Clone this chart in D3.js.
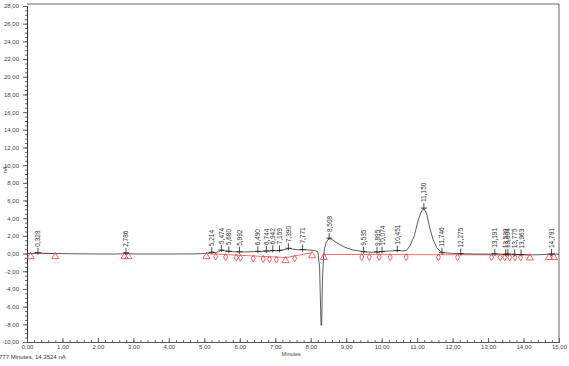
<!DOCTYPE html>
<html>
<head>
<meta charset="utf-8">
<script src="https://cdn.jsdelivr.net/npm/d3@7"></script>
<style>
  body { margin: 0; background: #fff; }
  text { font-family: "Liberation Sans", Arial, sans-serif; }
</style>
</head>
<body>
<div class="canvas"></div>
<script>
const dims = {width: 569, height: 366};
const margin = {left: 27, right: 10, top: 6, bottom: 24};

// trace (minutes, nA)
const traceTime = [0.0, 0.15, 0.3, 0.33, 0.4, 0.6, 1.0, 1.5, 2.0, 2.5, 2.7, 2.79, 2.9, 3.2, 4.0, 4.6, 5.0, 5.1,
  5.21, 5.3, 5.4, 5.47, 5.58, 5.68, 5.8, 5.99, 6.2, 6.49, 6.6, 6.74, 6.85, 6.94, 7.05, 7.16, 7.28, 7.39, 7.5,
  7.65, 7.77, 7.95, 8.1, 8.2, 8.25, 8.29, 8.31, 8.33, 8.36, 8.39, 8.44, 8.52, 8.6, 8.7, 8.85, 9.0, 9.2, 9.4,
  9.54, 9.7, 9.9, 10.07, 10.25, 10.45, 10.6, 10.7, 10.8, 10.92, 11.02, 11.1, 11.19, 11.27, 11.35, 11.45, 11.55,
  11.65, 11.75, 12.0, 12.28, 12.6, 13.0, 13.19, 13.4, 13.55, 13.61, 13.78, 13.96, 14.2, 14.5, 14.79, 15.0];
const traceValue = [0.0, 0.02, 0.08, 0.1, 0.06, 0.02, 0.0, -0.03, -0.05, -0.05, -0.02, 0.08, -0.02, -0.05, -0.05, -0.04, 0.0, 0.05,
  0.15, 0.12, 0.2, 0.4, 0.3, 0.25, 0.22, 0.2, 0.18, 0.25, 0.22, 0.3, 0.28, 0.35, 0.3, 0.38, 0.45, 0.6, 0.5,
  0.42, 0.45, 0.4, 0.35, 0.2, -1.5, -8.1, -8.1, -3.0, -0.5, 0.6, 1.3, 1.75, 1.6, 1.3, 0.95, 0.65, 0.4, 0.28,
  0.2, 0.15, 0.18, 0.25, 0.3, 0.35, 0.3, 0.35, 0.9, 2.0, 3.6, 4.6, 5.15, 4.5, 3.0, 1.6, 0.7,
  0.25, 0.1, 0.02, -0.02, -0.05, -0.06, -0.03, -0.08, -0.05, -0.07, -0.1, -0.12, -0.15, -0.12, -0.05, -0.08];

// labelled peaks
const peakTimes = [0.31, 2.79, 5.21, 5.48, 5.69, 5.99, 6.51, 6.75, 6.93, 7.12, 7.37, 7.77, 8.52,
  9.49, 9.87, 10.01, 10.44, 11.19, 11.7, 12.23, 13.19, 13.5, 13.56, 13.75, 13.93, 14.79];
const peakHeights = [0.1, 0.08, 0.15, 0.4, 0.27, 0.2, 0.25, 0.3, 0.35, 0.36, 0.6, 0.45, 1.75,
  0.2, 0.18, 0.24, 0.35, 5.15, 0.1, 0.0, -0.03, -0.07, -0.06, -0.09, -0.11, -0.05];
const peakLabels = ['0,328', '2,786', '5,214', '5,474', '5,680', '5,992', '6,490', '6,744', '6,942', '7,159', '7,390', '7,771', '8,508',
  '9,535', '9,895', '10,074', '10,451', '11,150', '11,746', '12,275', '13,191', '13,538', '13,604', '13,775', '13,963', '14,791'];

// integration baseline segments [t0, v0, t1, v1]
const baseSegments = [
  [0.1, 0.0, 0.8, 0.0],
  [2.75, 0.0, 2.86, 0.0],
  [5.06, 0.0, 7.29, -0.45],
  [7.29, -0.45, 8.04, 0.1],
  [8.37, -0.1, 14.18, -0.15],
  [14.72, -0.1, 14.86, -0.1]
];
const triangleTimes = [0.1, 0.8, 2.75, 2.86, 5.06, 7.29, 8.04, 8.37, 14.18, 14.72, 14.86];
const triangleValues = [0.0, 0.0, 0.0, 0.0, 0.0, -0.45, 0.1, -0.1, -0.15, -0.1, -0.1];
const diamondTimes = [5.32, 5.6, 5.9, 6.02, 6.38, 6.66, 6.84, 7.03, 7.55,
  9.44, 9.65, 9.93, 10.24, 10.69, 11.6, 12.14, 13.1, 13.34, 13.47, 13.61, 13.76, 13.92];

const yMajor = d3.range(-10, 28.01, 2);
const xMajor = d3.range(0, 15.01, 1);

const fmt = v => v.toFixed(2).replace('.', ',');

const svg = d3.select('.canvas')
  .append('svg')
  .attr('width', dims.width)
  .attr('height', dims.height);

const x = d3.scaleLinear().domain([0, 15]).range([margin.left, dims.width - margin.right]);
const y = d3.scaleLinear().domain([-10, 28]).range([dims.height - margin.bottom, margin.top]);

// frame top / right
svg.append('path')
  .attr('fill', 'none')
  .attr('stroke', '#666')
  .attr('d', `M${x(0)},${y(28) - 2}H${x(15)}V${y(-10)}`);

// y axis
const yAxis = svg.append('g')
  .attr('transform', `translate(${x(0)},0)`)
  .call(d3.axisLeft(y).tickValues(d3.range(-10, 28.01, 0.5)).tickSize(2).tickFormat(''));
yAxis.append('g')
  .call(d3.axisLeft(y).tickValues(yMajor).tickSize(4).tickFormat(fmt));
yAxis.selectAll('path.domain').attr('stroke', '#333');
yAxis.selectAll('line').attr('stroke', '#666');
yAxis.selectAll('text').attr('font-size', 6).attr('fill', '#444').attr('dx', -1);

// x axis
const xAxis = svg.append('g')
  .attr('transform', `translate(0,${y(-10)})`)
  .call(d3.axisBottom(x).tickValues(d3.range(0, 15.01, 0.2)).tickSize(-2).tickFormat(''));
xAxis.append('g')
  .call(d3.axisBottom(x).tickValues(xMajor).tickSize(-4).tickPadding(3).tickFormat(fmt));
xAxis.selectAll('path.domain').attr('stroke', '#555');
xAxis.selectAll('line').attr('stroke', '#666');
xAxis.selectAll('text').attr('font-size', 6).attr('fill', '#444');

svg.append('text')
  .attr('x', x(7.45)).attr('y', 356)
  .attr('text-anchor', 'middle')
  .attr('font-size', 5.5).attr('fill', '#444')
  .text('Minutes');

svg.append('text')
  .attr('transform', `translate(7,${y(9.5)}) rotate(-90)`)
  .attr('text-anchor', 'middle')
  .attr('font-size', 5.5).attr('fill', '#444')
  .text('nA');

svg.append('text')
  .attr('x', -1).attr('y', 359)
  .attr('font-size', 6).attr('fill', '#333')
  .text('777 Minutes, 14.3524 nA');

// integration baseline
svg.selectAll('.base')
  .data(baseSegments)
  .enter().append('line')
  .classed('base', true)
  .attr('x1', d => x(d[0])).attr('y1', d => y(d[1]))
  .attr('x2', d => x(d[2])).attr('y2', d => y(d[3]))
  .attr('stroke', '#f27070')
  .attr('stroke-width', 1);

// trace
const trace = traceTime.map((t, i) => [t, traceValue[i]]);
svg.append('path')
  .datum(trace)
  .attr('fill', 'none')
  .attr('stroke', '#333')
  .attr('stroke-width', 0.8)
  .attr('d', d3.line().x(d => x(d[0])).y(d => y(d[1])));

// markers
svg.selectAll('.tri')
  .data(triangleTimes)
  .enter().append('path')
  .classed('tri', true)
  .attr('transform', (d, i) => `translate(${x(d)},${y(triangleValues[i]) + 3})`)
  .attr('d', d3.symbol(d3.symbolTriangle, 22))
  .attr('fill', 'none')
  .attr('stroke', '#f04040')
  .attr('stroke-width', 0.8);

const baseAt = t => {
  const s = baseSegments.find(d => t >= d[0] && t <= d[2]);
  return s[1] + (s[3] - s[1]) * (t - s[0]) / (s[2] - s[0]);
};

svg.selectAll('.dia')
  .data(diamondTimes)
  .enter().append('path')
  .classed('dia', true)
  .attr('transform', d => `translate(${x(d)},${y(baseAt(d)) + 2.5})`)
  .attr('d', d3.symbol(d3.symbolDiamond, 14))
  .attr('fill', 'none')
  .attr('stroke', '#f04040')
  .attr('stroke-width', 0.8);

// peak ticks and labels
const peaks = svg.selectAll('.peak')
  .data(peakTimes)
  .enter().append('g')
  .classed('peak', true)
  .attr('transform', (d, i) => `translate(${x(d)},${y(peakHeights[i])})`);

peaks.append('path')
  .attr('d', 'M0,-5V2M-3,0H3')
  .attr('stroke', '#222')
  .attr('stroke-width', 0.8);

peaks.append('text')
  .attr('transform', 'translate(2.5,-6) rotate(-90)')
  .attr('font-size', 6.5)
  .attr('fill', '#333')
  .text((d, i) => peakLabels[i]);
</script>
</body>
</html>
